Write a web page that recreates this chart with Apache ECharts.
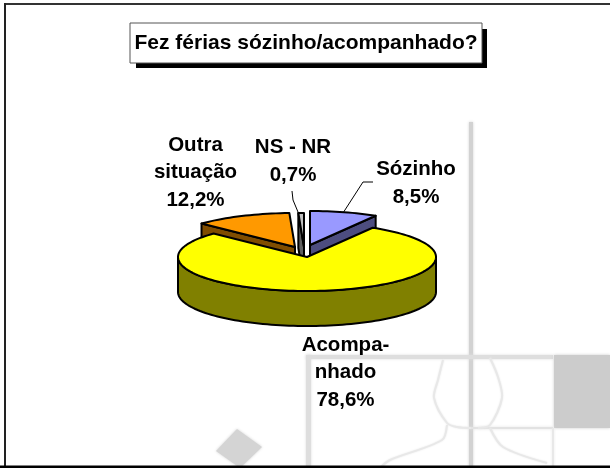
<!DOCTYPE html>
<html><head><meta charset="utf-8">
<style>html,body{margin:0;padding:0;background:#fff}#c{width:610px;height:468px}</style>
<script src="https://cdn.jsdelivr.net/npm/echarts@6/dist/echarts.min.js"></script>
</head><body><div id="c"></div>
<script>
const chartTitle = 'Fez férias sózinho/acompanhado?';
const categories = ['Sózinho', 'Acompa-\nnhado', 'Outra\nsituação', 'NS - NR'];
const values = [8.5, 78.6, 12.2, 0.7];

const topColors = ['#9999ff', '#ffff00', '#ff9900', '#c0c0c0'];
const sideColors = ['#4d4d80', '#808000', '#804d00', '#606060'];
const apexes = [[310, 245], [307, 257], [295, 247], [304, 247]];
const labelCenters = [[416, 183.5], [345.5, 372.5], [195.5, 172.5], [293, 161.5]];
const layers = [3, 5, 2, 1];
const RX = 129, RY = 34, DEPTH = 35, FONT = 'bold 20.5px "Liberation Sans", Arial, sans-serif';
const total = values.reduce((a, b) => a + b, 0);

function pt(apex, deg, dy) {
  const r = deg * Math.PI / 180;
  return [apex[0] + RX * Math.sin(r), apex[1] - RY * Math.cos(r) + (dy || 0)];
}
function arc(apex, a, b, dy) {
  const out = [], n = Math.max(2, Math.ceil(Math.abs(b - a) / 2));
  for (let i = 0; i <= n; i++) out.push(pt(apex, a + (b - a) * i / n, dy));
  return out;
}
function renderItem(params, api) {
  const i = params.dataIndex;
  const value = api.value(0);
  const before = values.slice(0, i).reduce((a, b) => a + b, 0);
  const a0 = before / total * 360, a1 = (before + value) / total * 360;
  const apex = apexes[i], z = layers[i] * 10;
  const border = { stroke: '#000', lineWidth: 2, lineJoin: 'round' };
  const kids = [];
  const side = pts => kids.push({ type: 'polygon', z2: z, shape: { points: pts },
    style: Object.assign({ fill: sideColors[i] }, border) });
  const low = [apex[0], apex[1] + DEPTH];
  if (a1 < 180) {
    const e = pt(apex, a1);
    side([apex, e, [e[0], e[1] + DEPTH], low]);
  }
  if (a0 > 180) {
    const s = pt(apex, a0);
    side([apex, s, [s[0], s[1] + DEPTH], low]);
  }
  const w0 = Math.max(a0, 90), w1 = Math.min(a1, 270);
  if (w1 > w0) side(arc(apex, w0, w1, 0).concat(arc(apex, w1, w0, DEPTH)));
  kids.push({ type: 'polygon', z2: z + 1, shape: { points: [apex].concat(arc(apex, a0, a1)) },
    style: Object.assign({ fill: topColors[i] }, border) });
  kids.push({ type: 'text', z2: 100, style: {
    text: categories[i] + '\n' + value.toFixed(1).replace('.', ',') + '%',
    x: labelCenters[i][0], y: labelCenters[i][1], align: 'center', verticalAlign: 'middle',
    font: FONT, lineHeight: 27.5, fill: '#000' } });
  return { type: 'group', children: kids };
}

const soft = c => ({ fill: c, shadowColor: c, shadowBlur: 3 });
const wmRect = (x, y, w, h, c) => ({ type: 'rect', z: 0, shape: { x, y, width: w, height: h }, style: soft(c) });
const wmLine = pts => ({ type: 'polyline', z: 0, shape: { points: pts, smooth: 0.3 },
  style: { stroke: '#e8e8e8', lineWidth: 2, fill: null, shadowColor: '#e8e8e8', shadowBlur: 2 } });
const frame = (x, y, w, h, c) => ({ type: 'rect', z: 1, shape: { x, y, width: w, height: h }, style: { fill: c } });
const leader = pts => ({ type: 'polyline', z: 1, shape: { points: pts }, style: { stroke: '#000', lineWidth: 1, fill: null } });

const chart = echarts.init(document.getElementById('c'), null, { renderer: 'canvas' });
chart.setOption({
  animation: false,
  backgroundColor: '#fff',
  title: {
    text: chartTitle, left: 130, top: 23,
    padding: [8.5, 4.5, 8.5, 4.5],
    backgroundColor: '#fff', borderColor: '#555', borderWidth: 1,
    textStyle: { fontFamily: '"Liberation Sans", Arial, sans-serif', fontWeight: 'bold', fontSize: 21, color: '#000', lineHeight: 23 }
  },
  graphic: { elements: [
    wmRect(469, 122, 4, 346, '#d2d2d2'),
    wmRect(306, 355, 247, 4, '#dedede'),
    wmRect(306, 355, 5, 113, '#dedede'),
    wmRect(554, 355, 56, 73, '#cccccc'),
    wmRect(471, 427, 82, 2, '#e2e2e2'),
    wmRect(552, 428, 2, 40, '#e8e8e8'),
    wmLine([[443, 360], [438, 380], [434, 398], [447, 423], [457, 427], [471, 428]]),
    wmLine([[490, 358], [498, 377], [502, 398], [490, 425], [478, 428]]),
    wmLine([[447, 425], [442, 440], [390, 460], [380, 468]]),
    wmLine([[490, 428], [503, 447], [547, 463]]),
    { type: 'polygon', z: 0, shape: { points: [[237, 429], [262, 447], [240, 468], [216, 451]] }, style: soft('#d4d4d4') },
    frame(4, 3, 606, 2, '#333'),
    frame(4, 3, 2, 465, '#222'),
    frame(0, 465.5, 610, 2.5, '#000'),
    leader([[343, 213], [363, 182], [373, 182]]),
    leader([[298, 212], [293, 200], [292, 191]]),
    { type: 'rect', z: 1, shape: { x: 136, y: 29, width: 351, height: 39 }, style: { fill: '#000' } }
  ] },
  series: [{
    type: 'custom', coordinateSystem: 'none', renderItem, clip: false, z: 2,
    data: values.map((v, i) => ({ name: categories[i], value: [v] }))
  }]
});
</script></body></html>
